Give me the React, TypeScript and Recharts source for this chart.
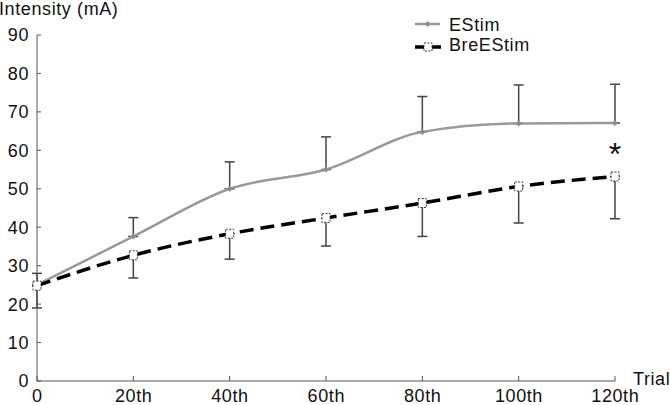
import React from "react";
import { LineChart, Line, XAxis, YAxis, ErrorBar, ReferenceDot, Customized } from "recharts";

const categories = ["0", "20th", "40th", "60th", "80th", "100th", "120th"];
const estim = [25, 37.6, 50, 55, 64.8, 67, 67.1];
const estimUpper = [28, 42.5, 57, 63.5, 74, 77, 77.2];
const breestim = [24.8, 32.7, 38.3, 42.4, 46.3, 50.6, 53.2];
const breLower = [19, 26.8, 31.7, 35.1, 37.6, 41.1, 42.2];
const yTicks = [0, 10, 20, 30, 40, 50, 60, 70, 80, 90];

const data = categories.map((c, i) => ({
  trial: c,
  estim: estim[i],
  estimErr: [0, estimUpper[i] - estim[i]],
  breestim: breestim[i],
  breErr: [breestim[i] - breLower[i], 0],
}));

const FONT = "'Liberation Sans', Arial, sans-serif";
const TEXT = "#111";
const AXIS = "#555";
const LS = "0.6px";
const FS = 18;

const Diamond = (p: any) => {
  const { cx, cy } = p;
  if (cx == null || cy == null) return null;
  return <path d={`M${cx},${cy - 3} L${cx + 3},${cy} L${cx},${cy + 3} L${cx - 3},${cy} Z`} fill="#8c8c8c" />;
};

const Square = (p: any) => {
  const { cx, cy } = p;
  if (cx == null || cy == null) return null;
  return (
    <rect x={cx - 4} y={cy - 4.5} width={8} height={9} fill="#fff" stroke="#333" strokeWidth={1} strokeDasharray="2 1.5" />
  );
};

const XTick = (p: any) => {
  const { x, y, payload } = p;
  return (
    <text x={x + 0.3} y={y} dy="0.71em" textAnchor="middle" fontSize={FS} fontFamily={FONT} fill={TEXT} style={{ letterSpacing: LS }}>
      {payload.value}
    </text>
  );
};

const YTick = (p: any) => {
  const { x, y, payload } = p;
  return (
    <text x={x} y={y} dy="0.355em" textAnchor="end" fontSize={FS} fontFamily={FONT} fill={TEXT} style={{ letterSpacing: LS }}>
      {payload.value}
    </text>
  );
};

const Extras = () => (
  <g fontFamily={FONT} fill={TEXT} style={{ letterSpacing: LS }}>
    <text x={-1} y={15} fontSize={FS}>Intensity (mA)</text>
    <text x={633} y={385} fontSize={FS}>Trial</text>
    <line x1={415} y1={24} x2={440} y2={24} stroke="#999" strokeWidth={2.5} />
    <path d="M427.5,21 L430.5,24 L427.5,27 L424.5,24 Z" fill="#8c8c8c" />
    <text x={449} y={30.5} fontSize={FS}>EStim</text>
    <line x1={415} y1={47} x2={441} y2={47} stroke="#000" strokeWidth={3.5} />
    <rect x={424} y={43} width={8} height={8} fill="#fff" stroke="#333" strokeWidth={1} strokeDasharray="2 1.5" />
    <text x={449} y={51} fontSize={FS}>BreEStim</text>
  </g>
);

export default function App() {
  return (
    <div style={{ position: "absolute", left: 0, top: 0, width: 670, height: 405, background: "#fff" }}>
      <LineChart width={670} height={405} data={data} margin={{ top: 35, right: 55, bottom: 0, left: 0 }}>
        <XAxis
          dataKey="trial"
          height={24}
          stroke={AXIS}
          tickSize={-5}
          tickMargin={13}
          tick={<XTick />}
          interval={0}
        />
        <YAxis
          width={37}
          domain={[0, 90]}
          ticks={yTicks}
          stroke={AXIS}
          tickSize={-4}
          tickMargin={12}
          tick={<YTick />}
          interval={0}
        />
        <Line
          type="monotone"
          dataKey="estim"
          stroke="#999"
          strokeWidth={2.5}
          dot={<Diamond />}
          isAnimationActive={false}
        >
          <ErrorBar dataKey="estimErr" width={5} stroke="#444" strokeWidth={1.5} direction="y" />
        </Line>
        <Line
          type="monotone"
          dataKey="breestim"
          stroke="#000"
          strokeWidth={3.5}
          strokeDasharray="14 7"
          dot={<Square />}
          isAnimationActive={false}
        >
          <ErrorBar dataKey="breErr" width={5} stroke="#444" strokeWidth={1.5} direction="y" />
        </Line>
        <ReferenceDot
          x="120th"
          y={60.5}
          r={0}
          isFront
          shape={(p: any) => (
            <text x={p.cx} y={p.cy + 17} textAnchor="middle" fontSize={32} fontFamily={FONT} fill="#111">
              *
            </text>
          )}
        />
        <Customized component={Extras} />
      </LineChart>
    </div>
  );
}
